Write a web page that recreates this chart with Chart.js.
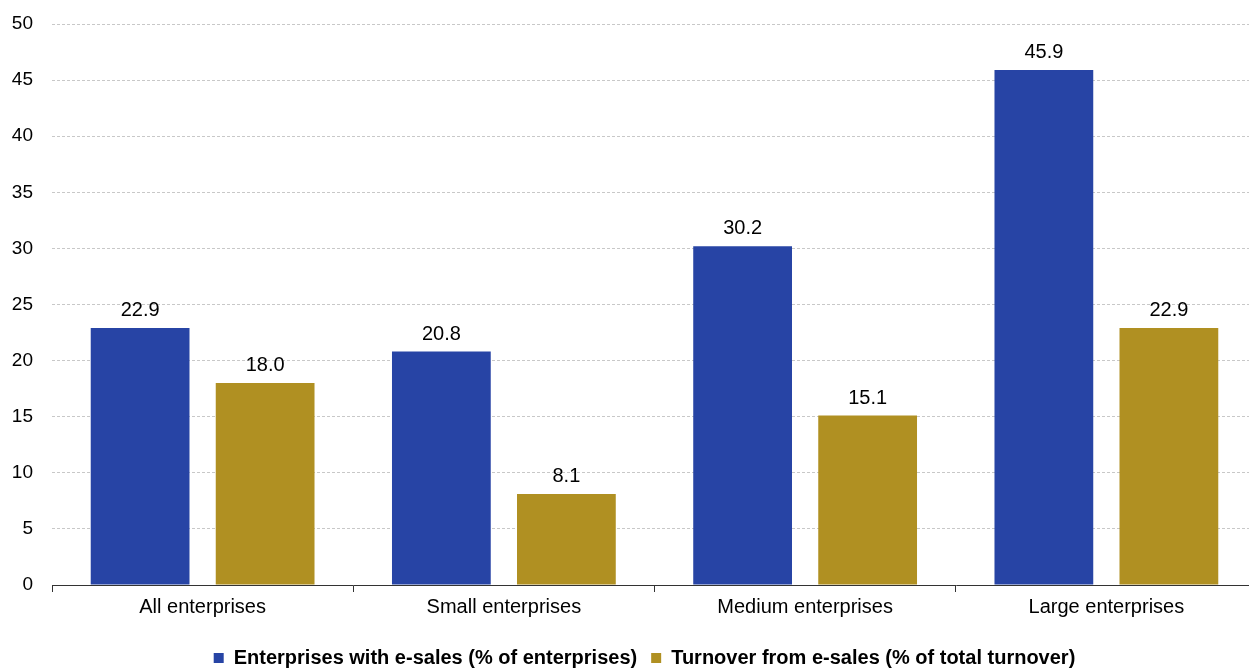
<!DOCTYPE html>
<html>
<head>
<meta charset="utf-8">
<script src="https://cdn.jsdelivr.net/npm/chart.js@4"></script>
<style>
  html, body { margin: 0; padding: 0; background: #fff; overflow: hidden; }
  #wrap { width: 1257px; height: 668px; }
</style>
</head>
<body>
<div id="wrap"><canvas id="myChart"></canvas></div>
<script>
const categories = ['All enterprises', 'Small enterprises', 'Medium enterprises', 'Large enterprises'];
const enterprisesWithESales = [22.9, 20.8, 30.2, 45.9];
const turnoverFromESales = [18.0, 8.1, 15.1, 22.9];
const yTicks = [0, 5, 10, 15, 20, 25, 30, 35, 40, 45, 50];

Chart.defaults.font.family = '"Liberation Sans", Arial, sans-serif';
Chart.defaults.color = '#000';

// value labels above each bar
const barValues = {
  id: 'barValues',
  afterDatasetsDraw(chart) {
    const { ctx } = chart;
    ctx.save();
    ctx.font = '20px "Liberation Sans", Arial, sans-serif';
    ctx.fillStyle = '#000';
    ctx.textAlign = 'center';
    ctx.textBaseline = 'alphabetic';
    chart.data.datasets.forEach((ds, i) => {
      chart.getDatasetMeta(i).data.forEach((bar, j) => {
        ctx.fillText(ds.data[j].toFixed(1), bar.x, bar.y - 12);
      });
    });
    ctx.restore();
  }
};

// nudge legend so it is centred on the visible width
const legendShift = {
  id: 'legendShift',
  beforeDraw(chart) {
    const lg = chart.legend;
    if (lg && !lg._shifted) {
      lg.left += 16; lg.right += 16; lg._shifted = true;
    }
  }
};

const ctx = document.getElementById('myChart');
const myChart = new Chart(ctx, {
  type: 'bar',
  data: {
    labels: categories,
    datasets: [{
      label: 'Enterprises with e-sales (% of enterprises)',
      data: enterprisesWithESales,
      backgroundColor: '#2744A5',
      categoryPercentage: 0.83,
      barPercentage: 0.79
    }, {
      label: 'Turnover from e-sales (% of total turnover)',
      data: turnoverFromESales,
      backgroundColor: '#B09022',
      categoryPercentage: 0.83,
      barPercentage: 0.79
    }]
  },
  options: {
    responsive: true,
    maintainAspectRatio: false,
    animation: false,
    layout: { padding: { top: 24, right: 0, left: 0, bottom: -10 } },
    plugins: {
      legend: {
        position: 'bottom',
        labels: {
          color: '#000',
          boxWidth: 10,
          boxHeight: 10,
          padding: 14,
          font: { size: 20, weight: 'bold' }
        }
      },
      tooltip: { enabled: false }
    },
    scales: {
      x: {
        afterFit: (axis) => { axis.height += 12; },
        border: { display: true, color: '#333', width: 1 },
        grid: { display: true, drawOnChartArea: false, drawTicks: true, tickLength: 7, color: '#333', offset: true },
        ticks: { color: '#000', font: { size: 20 }, padding: 3 }
      },
      y: {
        min: 0,
        max: 50,
        afterBuildTicks: (axis) => { axis.ticks = yTicks.map(v => ({ value: v })); },
        afterFit: (axis) => { axis.width = 52; axis.paddingTop = 0; },
        border: { display: false, dash: [3, 2] },
        grid: { color: '#c8c8c8', drawTicks: false, lineWidth: 1 },
        ticks: { color: '#000', font: { size: 19 }, padding: 19 }
      }
    }
  },
  plugins: [barValues, legendShift]
});
</script>
</body>
</html>
